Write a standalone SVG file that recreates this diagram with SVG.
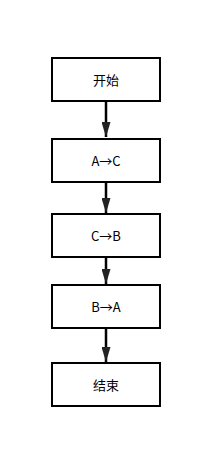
<svg xmlns="http://www.w3.org/2000/svg" width="221" height="468" viewBox="0 0 221 468">
<style>
.box{fill:#fff;stroke:#000;stroke-width:2}
.lbl{font-family:"Noto Sans CJK SC","Liberation Sans",sans-serif;font-size:13px;fill:#000;text-anchor:middle;dominant-baseline:central}
.edge{stroke:#000;stroke-width:2.5;fill:none;marker-end:url(#ah)}
</style>
<defs>
<marker id="ah" markerUnits="userSpaceOnUse" markerWidth="15" markerHeight="9" refX="15" refY="4.5" orient="auto">
<path d="M0,0 L15,4.5 L0,9 z" fill="#222"/>
</marker>
</defs>
<rect width="221" height="468" fill="#fff"/>
<g id="connectors">
<path class="edge" d="M106,101 V137"/>
<path class="edge" d="M106,182 V213"/>
<path class="edge" d="M106,257 V284"/>
<path class="edge" d="M106,328 V362"/>
</g>
<g id="n1"><rect class="box" x="52" y="58" width="108" height="43"/><text class="lbl" x="106" y="79.5">开始</text></g>
<g id="n2"><rect class="box" x="52" y="139" width="108" height="43"/><text class="lbl" x="106" y="160.5">A→C</text></g>
<g id="n3"><rect class="box" x="52" y="214" width="108" height="43"/><text class="lbl" x="106" y="235.5">C→B</text></g>
<g id="n4"><rect class="box" x="52" y="285" width="108" height="43"/><text class="lbl" x="106" y="306.5">B→A</text></g>
<g id="n5"><rect class="box" x="52" y="363" width="108" height="43"/><text class="lbl" x="106" y="384.5">结束</text></g>
</svg>
